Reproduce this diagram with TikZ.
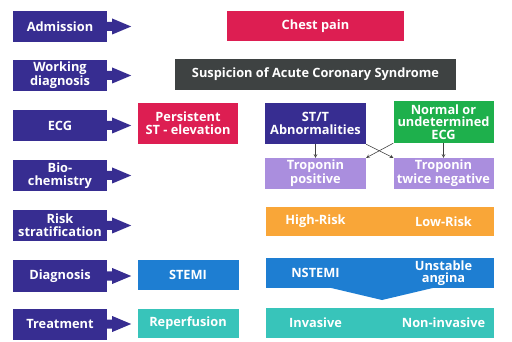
\documentclass[tikz,border=0pt]{standalone}
\usepackage{fontspec}
\setmainfont{Open Sans}
\definecolor{stagecol}{RGB}{55,45,145}
\definecolor{crimson}{RGB}{221,30,82}
\definecolor{darkgray}{RGB}{62,66,66}
\definecolor{ecggreen}{RGB}{30,176,76}
\definecolor{lavender}{RGB}{170,142,222}
\definecolor{riskorange}{RGB}{249,166,56}
\definecolor{diagblue}{RGB}{30,126,210}
\definecolor{teal}{RGB}{56,196,186}
\begin{document}
\begin{tikzpicture}[x=1pt, y=-1pt,
    box/.style={rectangle, fill=#1, text=white, inner sep=0pt, align=center,
        font=\bfseries\fontsize{12.8}{12.6}\selectfont},
    stage/.style={box=stagecol, minimum width=94pt, minimum height=31pt},
    bartext/.style={text=white, inner sep=0pt, align=center,
        font=\bfseries\fontsize{12.8}{12.6}\selectfont},
    link/.style={->, >=stealth, draw=black!75, semithick}]
    \useasboundingbox (0,0) rectangle (512,342);

    % Stages on the left
    \node[stage] (adm)   at (60,26.5)  {Admission};
    \node[stage] (wd)    at (60,75.5)  {Working\\diagnosis};
    \node[stage] (ecg)   at (60,125.5) {ECG};
    \node[stage] (bio)   at (60,175.5) {Bio-\\chemistry};
    \node[stage] (risk)  at (60,225.5) {Risk\\stratification};
    \node[stage] (diag)  at (60,276)   {Diagnosis};
    \node[stage] (treat) at (60,324)   {Treatment};

    % Arrow heads after each stage
    \foreach \n in {adm,wd,ecg,bio,risk,diag,treat}
        \fill[stagecol, shift={(\n.east)}] (0,-4.5) -- (5,-4.5) -- (5,-8)
            -- (24,0) -- (5,8) -- (5,4.5) -- (0,4.5) -- cycle;

    % Admission and working diagnosis
    \node[box=crimson, minimum width=177pt, minimum height=30pt] (chest) at (315.5,26) {Chest pain};
    \node[box=darkgray, minimum width=281pt, minimum height=31pt] (susp) at (315.5,74.5)
        {Suspicion of Acute Coronary Syndrome};

    % ECG
    \node[box=crimson, minimum width=100pt, minimum height=41pt] (pers) at (188,123.5)
        {Persistent\\ST - elevation};
    \node[box=stagecol, minimum width=101pt, minimum height=41pt] (stt) at (315.5,123.5)
        {ST/T\\Abnormalities};
    \node[box=ecggreen, minimum width=100pt, minimum height=42pt] (norm) at (443.5,122)
        {Normal or\\undetermined\\ECG};

    % Biochemistry
    \node[box=lavender, minimum width=101pt, minimum height=31pt] (tpos) at (315.5,173.5)
        {Troponin\\positive};
    \node[box=lavender, minimum width=100pt, minimum height=31pt] (tneg) at (443.5,173.5)
        {Troponin\\twice negative};
    \draw[link] (stt.south) -- (tpos.north);
    \draw[link] (norm.south) -- (tneg.north);
    \draw[link] (stt.south east) -- (tneg.north west);
    \draw[link] (norm.south west) -- (tpos.north east);

    % Risk stratification
    \node[box=riskorange, minimum width=228pt, minimum height=29pt] (rbar) at (380,221.5) {};
    \node[bartext] (hrisk) at (315.5,221.5) {High-Risk};
    \node[bartext] (lrisk) at (443.5,221.5) {Low-Risk};

    % Diagnosis
    \fill[diagblue] (327,287) -- (437,287) -- (382,300) -- cycle;
    \node[box=diagblue, minimum width=228pt, minimum height=30pt] (dbar) at (380,273) {};
    \node[bartext] (nstemi) at (315.5,273) {NSTEMI};
    \node[bartext] (ua) at (443.5,273) {Unstable\\angina};
    \node[box=diagblue, minimum width=101pt, minimum height=30pt] (stemi) at (188,275) {STEMI};

    % Treatment
    \node[box=teal, minimum width=228pt, minimum height=30pt] (tbar) at (380,323) {};
    \node[bartext] (inv) at (315.5,323) {Invasive};
    \node[bartext] (noninv) at (443.5,323) {Non-invasive};
    \node[box=teal, minimum width=101pt, minimum height=29pt] (reperf) at (188,323.5) {Reperfusion};
\end{tikzpicture}
\end{document}
